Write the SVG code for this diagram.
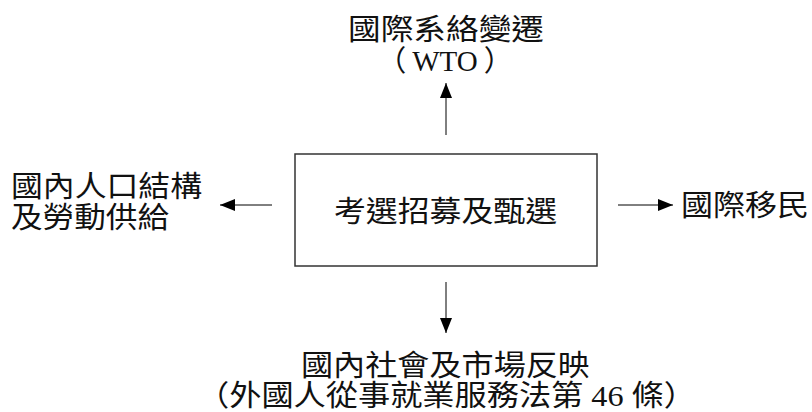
<svg xmlns="http://www.w3.org/2000/svg" width="812" height="412" viewBox="0 0 812 412">
<style>
  .t { font-family: "Liberation Serif", "Noto Sans CJK TC", serif; font-size: 29px; fill: #111; }
  .box { fill: #fff; stroke: #333; stroke-width: 1.5; }
  .conn { stroke: #000; stroke-width: 1; fill: none; marker-end: url(#ah); }
</style>
<defs>
  <marker id="ah" markerUnits="userSpaceOnUse" markerWidth="15" markerHeight="12" refX="15" refY="6" orient="auto">
    <path d="M0,0 L15,6 L0,12 Z" fill="#000"/>
  </marker>
</defs>
<rect width="812" height="412" fill="#fff"/>
<g id="center">
  <rect class="box" x="295" y="154" width="302" height="112"/>
  <text class="t" x="334" y="222" textLength="223" lengthAdjust="spacingAndGlyphs">考選招募及甄選</text>
</g>
<g id="top">
  <text class="t" x="348" y="40" textLength="196" lengthAdjust="spacingAndGlyphs">國際系絡變遷</text>
  <text class="t" x="445" y="71" text-anchor="middle"><tspan>（</tspan><tspan dx="6">WTO</tspan><tspan dx="6">）</tspan></text>
</g>
<g id="left">
  <text class="t" x="11" y="197" textLength="191" lengthAdjust="spacingAndGlyphs">國內人口結構</text>
  <text class="t" x="11" y="227.5" textLength="158" lengthAdjust="spacingAndGlyphs">及勞動供給</text>
</g>
<g id="right">
  <text class="t" x="681" y="216" textLength="128" lengthAdjust="spacingAndGlyphs">國際移民</text>
</g>
<g id="bottom">
  <text class="t" x="301" y="376" textLength="289" lengthAdjust="spacingAndGlyphs">國內社會及市場反映</text>
  <text class="t" x="197" y="406" textLength="499" lengthAdjust="spacingAndGlyphs">（外國人從事就業服務法第 46 條）</text>
</g>
<g id="connectors">
  <line class="conn" x1="446" y1="135" x2="446" y2="83"/>
  <line class="conn" x1="446" y1="282" x2="446" y2="333"/>
  <line class="conn" x1="272" y1="205" x2="220" y2="205"/>
  <line class="conn" x1="618" y1="205" x2="673" y2="205"/>
</g>
</svg>
